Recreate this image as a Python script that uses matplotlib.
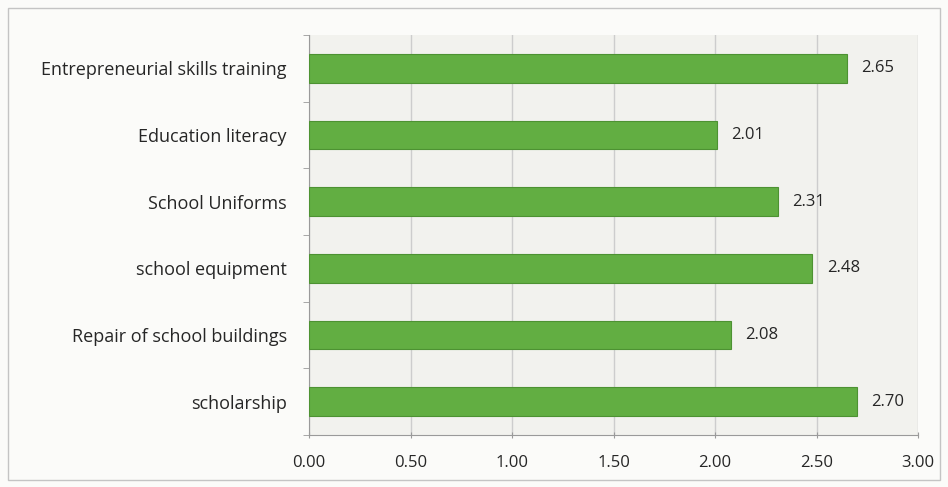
import matplotlib
matplotlib.use("Agg")
import matplotlib.pyplot as plt
from matplotlib.patches import Rectangle
import numpy as np

categories = ["Entrepreneurial skills training", "Education literacy", "School Uniforms",
              "school equipment", "Repair of school buildings", "scholarship"]
values = [2.65, 2.01, 2.31, 2.48, 2.08, 2.70]
xticks = [0.0, 0.5, 1.0, 1.5, 2.0, 2.5, 3.0]
xtick_labels = ["0.00", "0.50", "1.00", "1.50", "2.00", "2.50", "3.00"]

plt.rcParams['font.family'] = ['Open Sans', 'DejaVu Sans']

fig = plt.figure(figsize=(9.48, 4.87), dpi=100)
fig.patch.set_facecolor('#fbfbf9')
border = Rectangle((8/948, 7/487), 932/948, 472/487, transform=fig.transFigure,
                   fill=False, edgecolor='#c4c4c4', linewidth=1.0)
fig.patches.append(border)

ax = fig.add_axes([309/948, 1 - 435/487, (918-309)/948, (435-35)/487])
ax.set_facecolor('#f2f2ee')

y = list(range(len(categories)))
ax.barh(y, values, height=0.43, color='#62ae42', edgecolor='#4d9232', linewidth=0.8, zorder=3)
for yi, v in zip(y, values):
    ax.text(v + 0.07, yi, f"{v:.2f}", va='center', ha='left', fontsize=12, color='#262626', zorder=4)

ax.set_xlim(0, 3.0)
ax.set_ylim(len(categories) - 0.5, -0.5)
ax.set_yticks(y)
ax.set_yticklabels(categories, fontsize=13, color='#262626')
ax.set_yticks(np.arange(-0.5, len(categories), 1.0), minor=True)
ax.set_xticks(xticks)
ax.set_xticklabels(xtick_labels, fontsize=12, color='#262626')
ax.grid(axis='x', color='#cdcdcd', linewidth=1.0, zorder=0)
for s in ['top', 'right']:
    ax.spines[s].set_visible(False)
ax.spines['left'].set_color('#9a9a9a')
ax.spines['bottom'].set_color('#9a9a9a')
ax.tick_params(axis='y', which='major', length=0, pad=16)
ax.tick_params(axis='y', which='minor', length=4, color='#9a9a9a')
ax.tick_params(axis='x', length=5, color='#9a9a9a', pad=12, direction='inout')

fig.savefig("out.png", dpi=100, facecolor=fig.get_facecolor())
